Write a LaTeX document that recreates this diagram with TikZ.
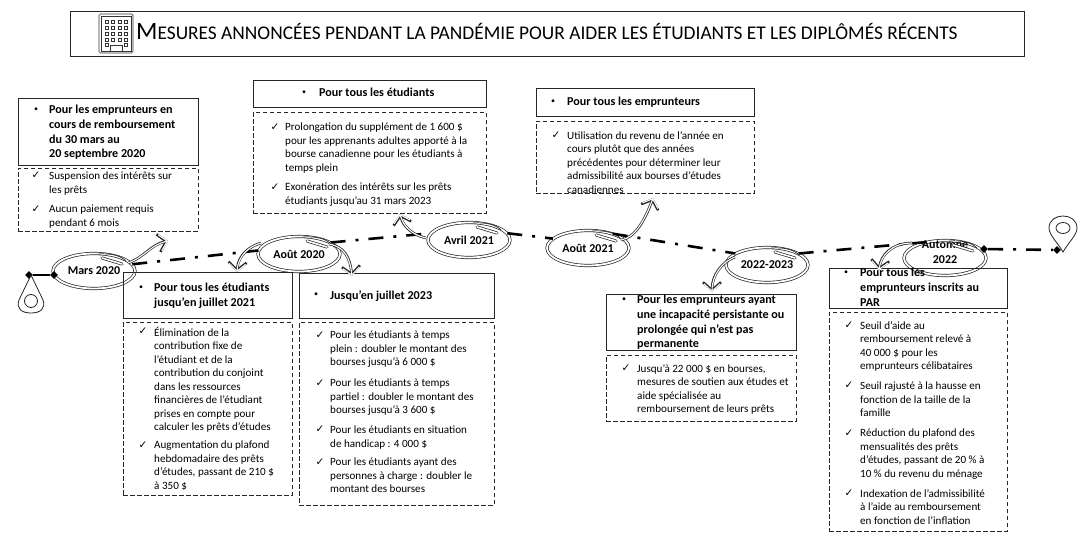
\documentclass[tikz,border=0pt]{standalone}
\usepackage{fontspec}
\setmainfont{Carlito}
\newfontfamily\symf{DejaVu Sans}
\usetikzlibrary{shapes.geometric,arrows.meta,calc}
\newcommand{\bodyf}{\fontsize{11.1}{13.5}\selectfont}
\newcommand{\headf}{\fontsize{12.1}{14.7}\selectfont\bfseries}
\tikzset{
  x=1pt,y=-1pt,
  solidbox/.style={draw=black!85,line width=0.8pt,rectangle,inner sep=0pt,anchor=north west},
  dashbox/.style={draw=black!85,line width=0.8pt,dash pattern=on 4.5pt off 2.5pt,rectangle,inner sep=0pt,anchor=north west},
  txt/.style={anchor=north west,inner sep=0pt,align=left,font=\bodyf,text=black,yshift=-1pt},
  head/.style={anchor=north west,inner sep=0pt,align=left,font=\headf,text=black},
  mk/.style={anchor=center,inner sep=0pt,font=\symf\fontsize{10.5}{10.5}\selectfont},
  bul/.style={anchor=center,inner sep=0pt,font=\fontsize{8}{8}\selectfont},
  ring/.style={ellipse,draw=black!85,line width=0.7pt,double,double distance=1.8pt,inner sep=0pt,font=\fontsize{12}{15}\selectfont\bfseries,align=center,minimum width=82pt,minimum height=35pt},
  ringlab/.style={inner sep=0pt,font=\fontsize{12}{15}\selectfont\bfseries,align=center},
  tl/.style={line width=2.6pt,dash pattern=on 15pt off 10pt on 3pt off 10pt},
  dia/.style={diamond,fill=black,inner sep=0pt,minimum size=8pt},
  pin/.style={line width=0.8pt,draw=black!85},
  arO/.style={line width=2.6pt,black!85,-{Straight Barb[length=8pt,width=18pt,line width=2.6pt]}},
  arI/.style={line width=1.1pt,white,-{Straight Barb[length=7.5pt,width=16.5pt,line width=1.1pt]}},
}
\newcommand{\sarrow}[1]{\draw[arO] #1; \draw[arI] #1;}
\newcommand{\ringtail}[1]{%
  \draw[line width=0.7pt,black!85] ($(#1.center)+(4,-17)$) .. controls ($(#1.center)+(18,-18)$) and ($(#1.center)+(27,-15)$) .. ($(#1.center)+(32,-10)$);
  \draw[line width=3pt,black!85,line cap=round] ($(#1.center)+(8,-13)$) -- ($(#1.center)+(28,-7)$);
  \draw[line width=1.6pt,white,line cap=round] ($(#1.center)+(8,-13)$) -- ($(#1.center)+(28,-7)$);}
\begin{document}
\begin{tikzpicture}
\useasboundingbox (0,0) rectangle (1087,545);
\fill[white] (0,0) rectangle (1087,545);
% title
\node[solidbox,minimum width=954pt,minimum height=45pt] (title) at (70,11) {};
\node[anchor=base west,inner sep=0pt,font=\fontsize{19.38}{20}\selectfont,text=black] (titletext) at (136,40) {{\fontsize{25}{25}\selectfont M}ESURES ANNONCÉES PENDANT LA PANDÉMIE POUR AIDER LES ÉTUDIANTS ET LES DIPLÔMÉS RÉCENTS};
% icon
\draw[line width=0.7pt,rounded corners=1.5pt,draw=black!80] (99,14) rectangle (133,53);
\draw[line width=0.7pt,draw=black!80] (101,16) rectangle (131,51);
\foreach \row in {0,1,2,3}{\foreach \col in {0,1,2,3}{
  \draw[line width=0.5pt,draw=black!80] (105.5+\col*6.2,20+\row*6) rectangle +(3,3);}}
\foreach \col in {0,3}{\draw[line width=0.5pt,draw=black!80] (105.5+\col*6.2,43) rectangle +(3,3);}
\draw[line width=0.7pt,draw=black!80] (110,51) -- (110,45) -- (122,45) -- (122,51);
% timeline rings
\node[ring] (mars) at (94,271) {Mars 2020};
\node[ring] (aout20) at (299,254) {Août 2020};
\node[ring] (avril) at (469,240) {Avril 2021};
\node[ring] (aout21) at (588,248) {Août 2021};
\node[ring] (p2223) at (767,265) {2022-2023};
\node[ring] (aut) at (945,258) {};
\node[ringlab] (autl) at (945,252) {Automne\\2022};
\foreach \n in {mars,aout20,avril,aout21,p2223,aut}{\ringtail{\n}}
% end points
\node[dia] (startA) at (29,275) {};
\node[dia] (startB) at (54,275) {};
\node[dia] (endA) at (984,249) {};
\node[dia] (endB) at (1057,250) {};
\draw[line width=2.6pt] (startA) -- (startB);
\draw[tl] (mars.10) -- (aout20.175);
\draw[tl] (aout20.20) -- (avril.170);
\draw[tl] (avril.10) -- (aout21.165);
\draw[tl] (aout21.30) -- (p2223.160);
\draw[tl] (p2223.20) -- (aut.140);
\draw[tl] (endA) -- (endB);
% pins
\draw[pin] (31,275) -- (19,300) .. controls (16,309) and (22,313) .. (31,313) .. controls (40,313) and (46,309) .. (43,300) -- cycle;
\draw[pin] (31,301) circle (6.5);
\draw[pin] (1063,252) .. controls (1058,243) and (1049,235) .. (1049,228) .. controls (1049,220) and (1056,216) .. (1063,216) .. controls (1070,216) and (1077,220) .. (1077,228) .. controls (1077,235) and (1068,243) .. (1063,252) -- cycle;
\draw[pin] (1063,228) ellipse (7 and 5.5);
% boxes
\node[solidbox,minimum width=180pt,minimum height=67pt] (b1) at (18,98) {};
\node[dashbox,minimum width=180pt,minimum height=63pt] (d1) at (18,168) {};
\node[solidbox,minimum width=233pt,minimum height=27pt] (b2) at (253,80) {};
\node[dashbox,minimum width=233pt,minimum height=101pt] (d2) at (253,112) {};
\node[solidbox,minimum width=218pt,minimum height=28pt] (b3) at (536,88) {};
\node[dashbox,minimum width=218pt,minimum height=72pt] (d3) at (536,121) {};
\node[solidbox,minimum width=169pt,minimum height=46pt] (b4) at (123,272) {};
\node[dashbox,minimum width=169pt,minimum height=173pt] (d4) at (123,322) {};
\node[solidbox,minimum width=195pt,minimum height=45pt] (b5) at (299,273) {};
\node[dashbox,minimum width=195pt,minimum height=183pt] (d5) at (299,322) {};
\node[solidbox,minimum width=190pt,minimum height=56pt] (b6) at (606,294) {};
\node[dashbox,minimum width=190pt,minimum height=66pt] (d6) at (606,355) {};
\node[solidbox,minimum width=178pt,minimum height=40pt] (b7) at (829,268) {};
\node[dashbox,minimum width=178pt,minimum height=219pt] (d7) at (829,312) {};
% arrows
\coordinate (e1) at (168,241);
\coordinate (e2) at (400,214);
\coordinate (e3) at (653,198);
\coordinate (e4) at (237,272);
\coordinate (e5) at (352,276);
\coordinate (e6) at (712,292);
\coordinate (e7) at (879,270);
\sarrow{($(mars.center)+(34,-8)$) .. controls (145,257) and (150,245) .. (e1)}
\sarrow{($(avril.center)+(-43,-2)$) .. controls (412,235) and (403,226) .. (e2)}
\sarrow{($(aout21.center)+(33,-8)$) .. controls (635,238) and (645,220) .. (e3)}
\sarrow{($(aout20.center)+(-38,-11)$) .. controls (250,246) and (238,255) .. (e4)}
\sarrow{($(aout20.center)+(30,-10)$) .. controls (345,247) and (350,258) .. (e5)}
\sarrow{($(p2223.center)+(-32,-8)$) .. controls (722,262) and (712,275) .. (e6)}
\sarrow{($(aut.center)+(-33,-15)$) .. controls (892,243) and (881,255) .. (e7)}
% text 1
\node[bul] (bu1) at (36,110) {•};
\node[head] (h1) at (49,105) {Pour les emprunteurs en\\cours de remboursement\\du 30 mars au\\20 septembre 2020};
\node[mk] (c1a) at (36,175) {✓};
\node[txt] (t1a) at (49,171) {Suspension des intérêts sur\\les prêts};
\node[mk] (c1b) at (36,209) {✓};
\node[txt] (t1b) at (49,204) {Aucun paiement requis\\pendant 6 mois};
% text 2
\node[bul] (bu2) at (304,93) {•};
\node[head] (h2) at (319,88) {Pour tous les étudiants};
\node[mk] (c2a) at (275,127) {✓};
\node[txt] (t2a) at (285,122) {Prolongation du supplément de 1 600 \$\\pour les apprenants adultes apporté à la\\bourse canadienne pour les étudiants à\\temps plein};
\node[mk] (c2b) at (275,187) {✓};
\node[txt] (t2b) at (285,182) {Exonération des intérêts sur les prêts\\étudiants jusqu’au 31 mars 2023};
% text 3
\node[bul] (bu3) at (553,102) {•};
\node[head] (h3) at (567,97) {Pour tous les emprunteurs};
\node[mk] (c3a) at (556,135) {✓};
\node[txt] (t3a) at (567,130) {Utilisation du revenu de l’année en\\cours plutôt que des années\\précédentes pour déterminer leur\\admissibilité aux bourses d’études\\canadiennes};
% text 4
\node[bul] (bu4) at (141,288) {•};
\node[head] (h4) at (154,283) {Pour tous les étudiants\\jusqu’en juillet 2021};
\node[mk] (c4a) at (143,331) {✓};
\node[txt] (t4a) at (154,326) {Élimination de la\\contribution fixe de\\l’étudiant et de la\\contribution du conjoint\\dans les ressources\\financières de l’étudiant\\prises en compte pour\\calculer les prêts d’études};
\node[mk] (c4b) at (143,445) {✓};
\node[txt] (t4b) at (154,440) {Augmentation du plafond\\hebdomadaire des prêts\\d’études, passant de 210 \$\\à 350 \$};
% text 5
\node[bul] (bu5) at (316,295) {•};
\node[head] (h5) at (330,290) {Jusqu’en juillet 2023};
\node[mk] (c5a) at (320,335) {✓};
\node[txt] (t5a) at (330,330) {Pour les étudiants à temps\\plein : doubler le montant des\\bourses jusqu’à 6 000 \$};
\node[mk] (c5b) at (320,383) {✓};
\node[txt] (t5b) at (330,378) {Pour les étudiants à temps\\partiel : doubler le montant des\\bourses jusqu’à 3 600 \$};
\node[mk] (c5c) at (320,429) {✓};
\node[txt] (t5c) at (330,425) {Pour les étudiants en situation\\de handicap : 4 000 \$};
\node[mk] (c5d) at (320,462) {✓};
\node[txt] (t5d) at (330,457) {Pour les étudiants ayant des\\personnes à charge : doubler le\\montant des bourses};
% text 6
\node[bul] (bu6) at (624,300) {•};
\node[head] (h6) at (637,295) {Pour les emprunteurs ayant\\une incapacité persistante ou\\prolongée qui n’est pas\\permanente};
\node[mk] (c6a) at (626,368) {✓};
\node[txt] (t6a) at (637,363) {Jusqu’à 22 000 \$ en bourses,\\mesures de soutien aux études et\\aide spécialisée au\\remboursement de leurs prêts};
% text 7
\node[bul] (bu7) at (846,273) {•};
\node[head] (h7) at (860,268) {Pour tous les\\emprunteurs inscrits au\\PAR};
\node[mk] (c7a) at (849,325) {✓};
\node[txt] (t7a) at (860,320) {Seuil d’aide au\\remboursement relevé à\\40 000 \$ pour les\\emprunteurs célibataires};
\node[mk] (c7b) at (849,385) {✓};
\node[txt] (t7b) at (860,381) {Seuil rajusté à la hausse en\\fonction de la taille de la\\famille};
\node[mk] (c7c) at (849,433) {✓};
\node[txt] (t7c) at (860,428) {Réduction du plafond des\\mensualités des prêts\\d’études, passant de 20 \% à\\10 \% du revenu du ménage};
\node[mk] (c7d) at (849,493) {✓};
\node[txt] (t7d) at (860,488) {Indexation de l’admissibilité\\à l’aide au remboursement\\en fonction de l’inflation};
\end{tikzpicture}
\end{document}
